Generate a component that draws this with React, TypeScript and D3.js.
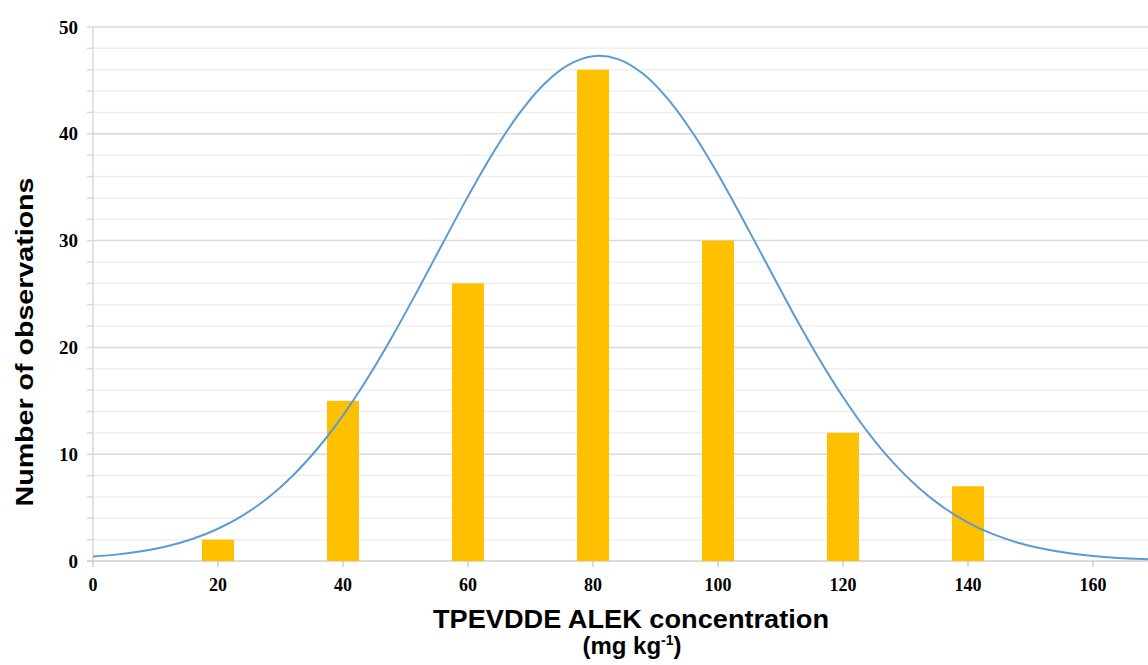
import React from "react";
import * as d3 from "d3";

const binCenters = [20, 40, 60, 80, 100, 120, 140];
const counts = [2, 15, 26, 46, 30, 12, 7];
const curveX = [0, 4, 8, 12, 16, 20, 24, 28, 32, 36, 40, 44, 48, 52, 56, 60, 64, 68, 72, 76, 80, 84, 88, 92, 96, 100, 104, 108, 112, 116, 120, 124, 128, 132, 136, 140, 144, 148, 152, 156, 160, 164, 168, 172];
const curveY = [0.42, 0.62, 0.94, 1.4, 2.08, 3.02, 4.28, 5.92, 8.01, 10.58, 13.64, 17.18, 21.14, 25.4, 29.79, 34.14, 38.2, 41.74, 44.55, 46.43, 47.27, 46.99, 45.62, 43.25, 40.05, 36.22, 31.98, 27.59, 23.23, 19.11, 15.36, 12.05, 9.23, 6.91, 5.05, 3.6, 2.51, 1.71, 1.14, 0.74, 0.47, 0.29, 0.18, 0.11];
const xTicks = [0, 20, 40, 60, 80, 100, 120, 140, 160];
const yMajor = [0, 10, 20, 30, 40, 50];
const yMinor = d3.range(0, 51, 2);

export default function App() {
  const W = 1148, H = 665;
  const x = d3.scaleLinear().domain([0, 160]).range([93, 1093]);
  const y = d3.scaleLinear().domain([0, 50]).range([561, 27]);
  const barW = 32;
  const line = d3.line<number>().x((_, i) => x(curveX[i])).y((d) => y(d)).curve(d3.curveCatmullRom.alpha(0.5));
  const tickFont = "'Liberation Serif', 'Times New Roman', serif";
  const sans = "'Liberation Sans', Arial, sans-serif";
  return (
    <svg width={W} height={H} style={{ position: "absolute", left: 0, top: 0, background: "#fff" }}>
      <defs>
        <clipPath id="plot"><rect x={93} y={0} width={W - 93} height={562} /></clipPath>
      </defs>
      {yMinor.filter((v) => v % 10 !== 0).map((v) => (
        <line key={"mn" + v} x1={93} x2={W} y1={y(v)} y2={y(v)} stroke="#efefef" strokeWidth={1.5} />
      ))}
      {yMajor.filter((v) => v > 0).map((v) => (
        <line key={"mj" + v} x1={93} x2={W} y1={y(v)} y2={y(v)} stroke="#d9d9d9" strokeWidth={1.5} />
      ))}
      {yMinor.map((v) => (
        <line key={"tk" + v} x1={87} x2={93} y1={y(v)} y2={y(v)} stroke="#d9d9d9" strokeWidth={1.5} />
      ))}
      <line x1={93} x2={93} y1={y(50)} y2={y(0)} stroke="#d9d9d9" strokeWidth={1.5} />
      <line x1={87} x2={W} y1={y(0)} y2={y(0)} stroke="#cfcfcf" strokeWidth={1.5} />
      {xTicks.map((v) => (
        <line key={"xt" + v} x1={x(v)} x2={x(v)} y1={y(0)} y2={y(0) + 6} stroke="#cfcfcf" strokeWidth={1.5} />
      ))}
      {binCenters.map((c, i) => (
        <rect key={"b" + c} x={x(c) - barW / 2} y={y(counts[i])} width={barW} height={y(0) - y(counts[i])} fill="#FFC000" />
      ))}
      <path d={line(curveY) || ""} fill="none" stroke="#5B9BD5" strokeWidth={2} clipPath="url(#plot)" />
      {yMajor.map((v) => (
        <text key={"yl" + v} x={78} y={y(v)} dy="0.35em" textAnchor="end" fontFamily={tickFont} fontWeight="bold" fontSize={19}>{v}</text>
      ))}
      {xTicks.map((v) => (
        <text key={"xl" + v} x={x(v)} y={591} textAnchor="middle" fontFamily={tickFont} fontWeight="bold" fontSize={18}>{v}</text>
      ))}
      <text x={631} y={628} textAnchor="middle" fontFamily={sans} fontWeight="bold" fontSize={25} textLength={396} lengthAdjust="spacingAndGlyphs">TPEVDDE ALEK  concentration</text>
      <text x={632} y={654} textAnchor="middle" fontFamily={sans} fontWeight="bold" fontSize={24}>
        (mg kg<tspan dy={-9} fontSize={14}>-1</tspan><tspan dy={9}>)</tspan>
      </text>
      <text transform={`translate(33,342) rotate(-90)`} textAnchor="middle" fontFamily={sans} fontWeight="bold" fontSize={24} textLength={329} lengthAdjust="spacingAndGlyphs">Number of observations</text>
    </svg>
  );
}
